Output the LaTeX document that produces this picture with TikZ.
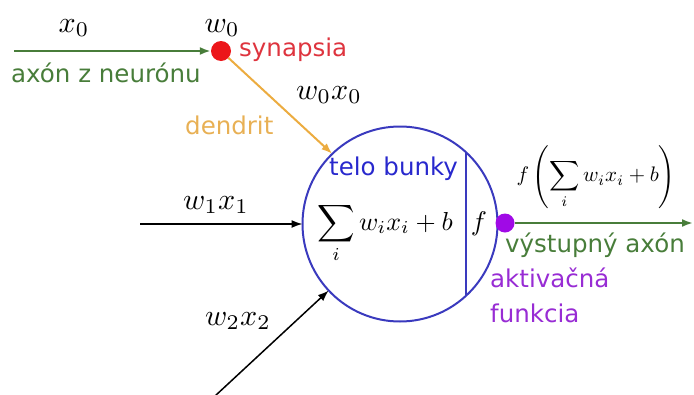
\documentclass[tikz,border=0pt]{standalone}
\usepackage{fontspec}
\setmainfont{DejaVu Sans}
\usetikzlibrary{arrows.meta}
\definecolor{cgreen}{RGB}{72,125,58}
\definecolor{cred}{RGB}{236,22,26}
\definecolor{credt}{RGB}{222,52,62}
\definecolor{corange}{RGB}{236,172,64}
\definecolor{corangt}{RGB}{232,176,84}
\definecolor{cblue}{RGB}{58,58,190}
\definecolor{cbluet}{RGB}{40,40,205}
\definecolor{cpurple}{RGB}{160,10,230}
\definecolor{cpurplet}{RGB}{152,44,212}
\tikzset{
  lbl/.style={inner sep=0pt, font=\fontsize{24.5}{29}\selectfont},
  mlbl/.style={inner sep=0pt, scale=3},
  dotnode/.style={circle, inner sep=0pt, minimum size=19pt},
  tip/.style={-{Latex[length=11pt,width=8pt]}},
}
\begin{document}
\begin{tikzpicture}[x=1pt,y=-1pt]
\useasboundingbox (0,0) rectangle (694,394);
% neuron body
\node[circle, draw=cblue, line width=2pt, minimum size=195pt, inner sep=0pt, outer sep=0pt] (cell) at (400,224) {};
\draw[cblue, line width=2pt] (cell.47) -- (cell.-47);
\node[dotnode, fill=cred, minimum size=20pt] (syn) at (221,51) {};
\node[dotnode, fill=cpurple] (act) at (505,223) {};
% connectors
\coordinate (a0) at (14,51);
\draw[tip, cgreen, line width=2pt] (a0) -- (syn);
\draw[tip, corange, line width=2pt] (syn) -- (cell.134);
\coordinate (in1) at (140,224);
\draw[tip, black, line width=1.5pt] (in1) -- (cell.west);
\coordinate (in2) at (215,396);
\draw[tip, black, line width=1.5pt] (in2) -- (cell.223);
\coordinate (out) at (693,223);
\draw[tip, cgreen, line width=2pt] (act) -- (out);
% math labels
\node[mlbl] (lx0) at (74,28) {$x_0$};
\node[mlbl] (lw0) at (222,28) {$w_0$};
\node[mlbl] (lw0x0) at (329,95) {$w_0x_0$};
\node[mlbl] (lw1x1) at (216,205) {$w_1x_1$};
\node[mlbl] (lw2x2) at (238,321) {$w_2x_2$};
\node[inner sep=0pt, scale=2.6] (sum) at (385,233) {$\displaystyle\sum_i w_ix_i+b$};
\node[inner sep=0pt, scale=2.7] (lf) at (479,224) {$f$};
\node[inner sep=0pt, scale=2.1] (outf) at (596,177) {$\displaystyle f\left(\sum_i w_ix_i+b\right)$};
% text labels
\node[lbl, anchor=west, text=credt] (tsyn) at (239,50) {synapsia};
\node[lbl, anchor=west, text=cgreen] (tax) at (11,73) {axón z neurónu};
\node[lbl, anchor=west, text=corangt] (tden) at (185,125) {dendrit};
\node[lbl, anchor=west, text=cbluet] (ttelo) at (329,169) {telo bunky};
\node[lbl, anchor=west, text=cgreen] (tvy) at (505,245) {výstupný axón};
\node[lbl, anchor=west, text=cpurplet] (takt) at (490,278) {aktivačná};
\node[lbl, anchor=west, text=cpurplet] (tfun) at (490,313) {funkcia};
\end{tikzpicture}
\end{document}
